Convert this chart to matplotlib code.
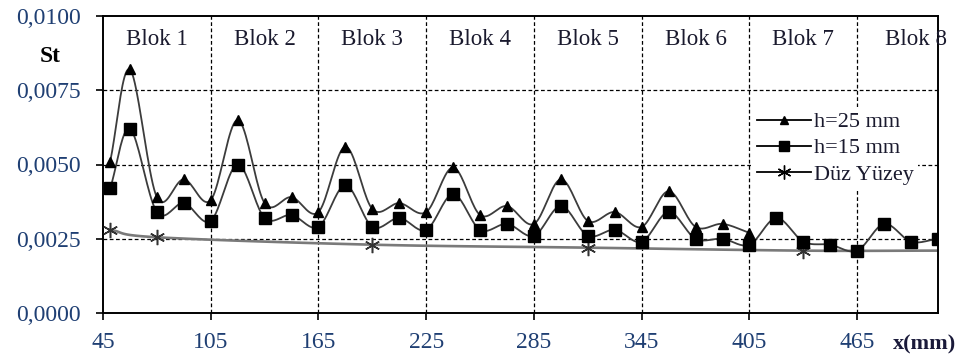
import numpy as np
import matplotlib
matplotlib.use("Agg")
import matplotlib.pyplot as plt

plt.rcParams["font.family"] = ["Liberation Serif", "DejaVu Serif"]

# Stanton number along the channel
x_h25 = [49, 60, 75, 90, 105, 120, 135, 150, 165, 180, 195, 210, 225,
         240, 255, 270, 285, 300, 315, 330, 345, 360, 375, 390, 405]
st_h25 = [0.0051, 0.0082, 0.0039, 0.0045, 0.0038, 0.0065, 0.0037, 0.0039,
          0.0034, 0.0056, 0.0035, 0.0037, 0.0034, 0.0049, 0.0033, 0.0036,
          0.0030, 0.0045, 0.0031, 0.0034, 0.0029, 0.0041, 0.0029, 0.0030,
          0.0027]
x_h15 = [49, 60, 75, 90, 105, 120, 135, 150, 165, 180, 195, 210, 225,
         240, 255, 270, 285, 300, 315, 330, 345, 360, 375, 390, 405,
         420, 435, 450, 465, 480, 495, 510]
st_h15 = [0.0042, 0.0062, 0.0034, 0.0037, 0.0031, 0.0050, 0.0032, 0.0033,
          0.0029, 0.0043, 0.0029, 0.0032, 0.0028, 0.0040, 0.0028, 0.0030,
          0.0026, 0.0036, 0.0026, 0.0028, 0.0024, 0.0034, 0.0025, 0.0025,
          0.0023, 0.0032, 0.0024, 0.0023, 0.0021, 0.0030, 0.0024, 0.0025]
x_flat = [49, 75, 195, 315, 435, 510]
st_flat = [0.0028, 0.00255, 0.0023, 0.0022, 0.0021, 0.0021]

blok_names = ["Blok 1", "Blok 2", "Blok 3", "Blok 4",
              "Blok 5", "Blok 6", "Blok 7", "Blok 8"]
blok_x = [75, 135, 195, 255, 315, 375, 435, 498]
x_ticks = [45, 105, 165, 225, 285, 345, 405, 465]
y_ticks = [0.0, 0.0025, 0.0050, 0.0075, 0.0100]
y_labels = ["0,0000", "0,0025", "0,0050", "0,0075", "0,0100"]

TICK = "#1f3f73"


def smooth(xs, ys, n=20):
    # Catmull-Rom curve through the points (spreadsheet style smoothed line)
    xs = np.asarray(xs, float); ys = np.asarray(ys, float)
    px = np.concatenate([[2 * xs[0] - xs[1]], xs, [2 * xs[-1] - xs[-2]]])
    py = np.concatenate([[2 * ys[0] - ys[1]], ys, [2 * ys[-1] - ys[-2]]])
    t = np.linspace(0, 1, n, endpoint=False)
    ox, oy = [], []
    for i in range(1, len(px) - 2):
        for p, o in ((px, ox), (py, oy)):
            p0, p1, p2, p3 = p[i - 1], p[i], p[i + 1], p[i + 2]
            o.append(0.5 * (2 * p1 + (-p0 + p2) * t
                            + (2 * p0 - 5 * p1 + 4 * p2 - p3) * t ** 2
                            + (-p0 + 3 * p1 - 3 * p2 + p3) * t ** 3))
    ox.append([xs[-1]]); oy.append([ys[-1]])
    return np.concatenate(ox), np.concatenate(oy)


fig = plt.figure(figsize=(9.58, 3.54), dpi=100)
ax = fig.add_axes([103 / 958, 41 / 354, 835 / 958, 297 / 354])
ax.set_xlim(45, 510)
ax.set_ylim(0, 0.0100)

for xv in x_ticks[1:]:
    ax.axvline(xv, color="black", lw=0.9, ls=(0, (3, 2)), zorder=1)
for yv in y_ticks[1:-1]:
    ax.axhline(yv, color="black", lw=0.9, ls=(0, (3, 2)), zorder=1)

line_kw = dict(color="#3c3c3c", lw=1.3, zorder=3)
sx, sy = smooth(x_flat, st_flat)
ax.plot(sx, sy, color="#7a7a7a", lw=1.9, zorder=2)
ax.plot(x_flat[:-1], st_flat[:-1], ls="none", marker=(6, 2, 0), ms=11,
        mec="#333333", mew=1.1, zorder=4)
sx, sy = smooth(x_h25, st_h25)
ax.plot(sx, sy, **line_kw)
ax.plot(x_h25, st_h25, ls="none", marker="^", ms=7, color="black", zorder=4)
sx, sy = smooth(x_h15, st_h15)
ax.plot(sx, sy, **line_kw)
ax.plot(x_h15, st_h15, ls="none", marker="s", ms=8, color="black", zorder=5)

for name, bx in zip(blok_names, blok_x):
    ax.text(bx, 0.0092, name, ha="center", va="center", fontsize=16.5,
            color="#1a1a2e", zorder=6, clip_on=False)

ax.set_xticks(x_ticks)
ax.set_xticklabels([str(v) for v in x_ticks])
ax.set_yticks(y_ticks)
ax.set_yticklabels(y_labels)
ax.tick_params(direction="out", length=5, width=1.2, labelsize=17,
               labelcolor=TICK)
ax.tick_params(axis="y", pad=11)
ax.tick_params(axis="x", pad=9)
for s in ax.spines.values():
    s.set_linewidth(1.4)

# legend handles share the drawn styles
h1, = ax.plot([], [], color="black", lw=1.3, marker="^", ms=6)
h2, = ax.plot([], [], color="black", lw=1.3, marker="s", ms=7)
h3, = ax.plot([], [], color="black", lw=1.3, marker=(6, 2, 0), ms=10)
leg = ax.legend([h1, h2, h3], ["h=25 mm", "h=15 mm", "Düz Yüzey"],
                loc="upper left", bbox_to_anchor=(0.765, 0.73),
                frameon=True, fancybox=False, edgecolor="none",
                facecolor="white", framealpha=1, fontsize=16,
                handlelength=2.4, handletextpad=0.15, labelspacing=0.25,
                borderpad=0.2, labelcolor="#1a1a2e")
leg.set_zorder(7)

fig.text(50 / 958, 1 - 56 / 354, "St", ha="center", va="center",
         fontsize=17, fontweight="bold", color="black")
fig.text(925 / 958, 1 - 344 / 354, "x(mm)", ha="center", va="center",
         fontsize=16, fontweight="bold", color="#1a1a3a")

fig.savefig("out.png", dpi=100)
